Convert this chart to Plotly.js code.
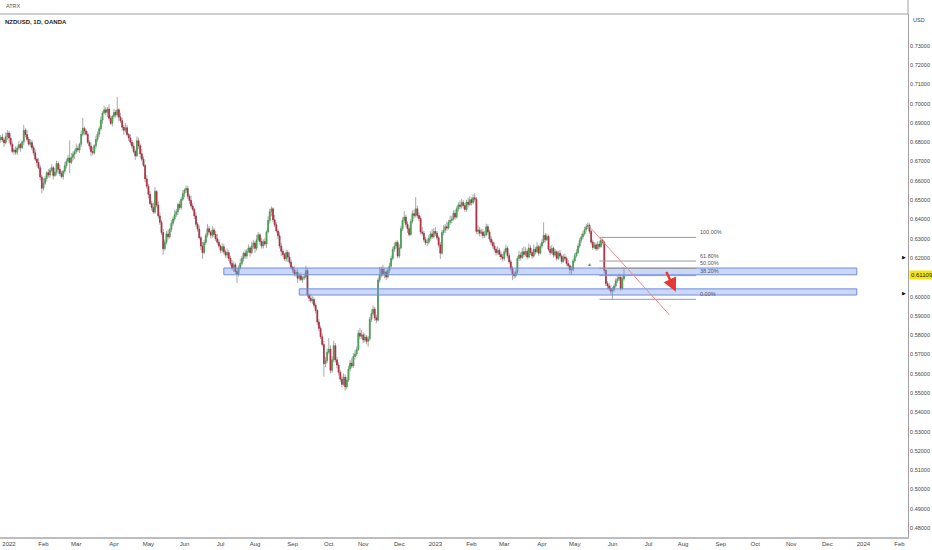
<!DOCTYPE html>
<html>
<head>
<meta charset="utf-8">
<script src="https://cdn.plot.ly/plotly-3.0.1.min.js"></script>
<style>
  html, body { margin: 0; padding: 0; background: #fff; }
  #chart { width: 932px; height: 550px; }
</style>
</head>
<body>
<div id="chart"></div>
<script>
// NZDUSD daily candles, prices in pips (x 0.0001)
const firstBarDate = "2021-12-27";

const openPips = [
  6812,6826,6812,6797,6830,6848,6822,6790,6752,6760,6748,6770,6788,6772,6802,6862,6840,6815,6790,6798,
  6772,6745,6712,6695,6668,6620,6562,6588,6612,6642,6630,6655,6668,6628,6645,6690,6660,6638,6622,6650,
  6678,6702,6718,6695,6722,6738,6752,6768,6760,6790,6842,6872,6858,6842,6800,6780,6752,6745,6782,6815,
  6842,6870,6915,6952,6968,6955,6972,6925,6898,6935,6955,6942,6968,6930,6912,6878,6862,6875,6840,6822,
  6800,6780,6752,6730,6808,6782,6740,6712,6680,6610,6572,6530,6482,6462,6438,6545,6475,6418,6385,6332,
  6248,6282,6325,6310,6348,6380,6402,6425,6440,6478,6462,6505,6535,6552,6560,6520,6498,6470,6452,6418,
  6375,6350,6305,6262,6228,6280,6318,6352,6335,6318,6345,6322,6300,6282,6262,6240,6258,6232,6215,6228,
  6198,6172,6148,6165,6130,6118,6150,6172,6198,6225,6210,6235,6252,6228,6262,6278,6250,6295,6320,6285,
  6262,6285,6272,6335,6395,6440,6455,6398,6372,6340,6315,6262,6235,6218,6195,6228,6205,6178,6152,6138,
  6118,6125,6095,6108,6088,6098,6102,6135,6008,5992,5978,5985,5955,5928,5868,5835,5792,5752,5652,5668,
  5712,5728,5618,5672,5745,5672,5645,5608,5572,5545,5582,5532,5568,5625,5655,5640,5690,5702,5725,5810,
  5795,5802,5775,5790,5768,5782,5882,5912,5935,5890,5878,6085,6110,6142,6118,6128,6102,6135,6158,6198,
  6245,6262,6280,6210,6252,6352,6395,6412,6375,6352,6322,6390,6430,6420,6455,6420,6405,6335,6328,6295,
  6280,6282,6302,6325,6310,6338,6328,6305,6268,6225,6332,6345,6362,6355,6385,6395,6402,6432,6412,6455,
  6475,6468,6488,6472,6452,6490,6478,6502,6488,6512,6505,6338,6345,6328,6335,6315,6322,6362,6335,6298,
  6282,6262,6245,6228,6240,6218,6205,6198,6232,6250,6212,6180,6145,6118,6108,6125,6198,6215,6202,6232,
  6218,6235,6205,6252,6228,6210,6245,6232,6258,6225,6262,6282,6318,6295,6312,6245,6228,6250,6215,6232,
  6198,6225,6210,6182,6205,6198,6172,6160,6138,6140,6185,6212,6228,6262,6292,6310,6325,6348,6362,6370,
  6338,6282,6255,6268,6248,6272,6260,6292,6282,6135,6068,6055,6042,6028,6035,6055,6082,6092,6100,6042,
  6092
];

const highPips = [
  6838,6844,6821,6852,6863,6859,6847,6804,6768,6779,6782,6806,6797,6810,6890,6873,6865,6829,6817,6813,
  6784,6763,6721,6717,6683,6631,6613,6626,6650,6661,6667,6686,6677,6667,6705,6701,6685,6652,6658,6697,
  6714,6736,6810,6744,6753,6763,6793,6782,6798,6861,6926,6881,6867,6857,6811,6799,6777,6790,6834,6856,
  6882,6933,6961,6990,6983,6983,6997,6939,6943,6974,6967,7035,6977,6952,6927,6889,6900,6889,6848,6841,
  6812,6798,6763,6830,6823,6793,6765,6726,6688,6629,6584,6548,6497,6486,6568,6553,6494,6437,6397,6351,
  6296,6340,6347,6356,6397,6415,6449,6455,6486,6497,6517,6553,6561,6576,6574,6531,6523,6484,6460,6437,
  6387,6368,6314,6284,6295,6329,6377,6366,6343,6364,6357,6340,6325,6296,6270,6277,6273,6243,6250,6240,
  6210,6190,6182,6176,6145,6162,6196,6212,6233,6244,6247,6270,6261,6284,6293,6289,6320,6334,6328,6304,
  6297,6303,6344,6417,6455,6468,6462,6423,6386,6348,6334,6280,6247,6227,6244,6241,6230,6192,6160,6157,
  6140,6143,6120,6126,6106,6121,6160,6149,6016,6014,6002,5996,5967,5935,5882,5849,5810,5770,5688,5730,
  5785,5748,5690,5772,5760,5688,5659,5621,5590,5602,5596,5584,5641,5671,5682,5708,5723,5741,5826,5837,
  5828,5815,5809,5801,5796,5895,5934,5955,5946,5905,6098,6154,6155,6165,6147,6139,6150,6176,6212,6258,
  6281,6290,6292,6270,6368,6410,6443,6425,6390,6365,6402,6447,6452,6516,6472,6436,6418,6362,6341,6310,
  6302,6318,6339,6350,6355,6360,6340,6316,6283,6344,6370,6376,6388,6398,6420,6418,6448,6450,6468,6490,
  6498,6505,6500,6485,6502,6512,6520,6515,6530,6537,6516,6370,6362,6352,6350,6341,6378,6375,6346,6315,
  6295,6280,6258,6262,6252,6233,6222,6248,6268,6262,6225,6192,6158,6132,6140,6210,6238,6229,6252,6260,
  6255,6248,6275,6266,6240,6270,6258,6282,6268,6276,6299,6385,6330,6326,6320,6262,6268,6258,6246,6240,
  6237,6242,6220,6218,6222,6208,6190,6168,6158,6198,6226,6246,6275,6305,6326,6340,6362,6378,6385,6380,
  6345,6295,6282,6280,6288,6290,6305,6300,6290,6142,6080,6070,6058,6050,6068,6095,6108,6120,6110,6105,
  6150
];

const lowPips = [
  6798,6802,6776,6789,6813,6798,6778,6743,6736,6735,6734,6760,6751,6764,6785,6826,6803,6781,6774,6759,
  6731,6702,6674,6660,6603,6535,6550,6579,6596,6617,6616,6645,6607,6620,6628,6636,6626,6613,6606,6637,
  6664,6692,6640,6687,6705,6714,6740,6751,6744,6777,6830,6837,6834,6791,6763,6728,6733,6736,6766,6802,
  6828,6860,6894,6944,6938,6931,6913,6889,6882,6922,6928,6930,6909,6900,6862,6838,6850,6831,6806,6787,
  6766,6742,6709,6722,6766,6716,6700,6671,6594,6559,6509,6474,6446,6430,6428,6462,6404,6372,6318,6217,
  6238,6270,6296,6301,6335,6366,6390,6413,6424,6449,6451,6495,6514,6538,6507,6481,6458,6443,6402,6362,
  6336,6297,6241,6196,6219,6268,6306,6326,6302,6305,6308,6289,6270,6253,6224,6227,6219,6202,6199,6184,
  6158,6136,6128,6117,6070,6104,6140,6161,6182,6197,6196,6225,6207,6220,6245,6226,6238,6286,6269,6249,
  6248,6264,6251,6327,6378,6416,6386,6360,6331,6299,6249,6211,6206,6186,6181,6181,6166,6143,6122,6105,
  6104,6071,6083,6079,6072,6085,6093,5996,5976,5969,5961,5942,5913,5852,5819,5780,5741,5585,5635,5655,
  5702,5602,5605,5660,5658,5628,5590,5558,5530,5538,5512,5520,5557,5612,5628,5631,5674,5692,5718,5779,
  5782,5758,5764,5752,5740,5770,5868,5901,5874,5862,5870,6072,6098,6104,6095,6085,6094,6122,6150,6187,
  6232,6248,6198,6200,6245,6340,6381,6360,6330,6311,6315,6378,6404,6410,6406,6390,6322,6315,6282,6266,
  6262,6271,6290,6297,6302,6314,6292,6255,6195,6218,6318,6330,6341,6347,6372,6380,6393,6398,6404,6441,
  6452,6457,6455,6440,6441,6462,6469,6472,6478,6490,6325,6322,6312,6316,6300,6304,6312,6322,6285,6268,
  6250,6232,6212,6218,6205,6190,6182,6186,6220,6198,6170,6132,6085,6092,6098,6118,6185,6188,6195,6205,
  6208,6192,6198,6215,6196,6202,6218,6225,6211,6218,6250,6275,6280,6288,6235,6214,6220,6202,6205,6186,
  6190,6198,6170,6175,6185,6160,6148,6118,6112,6130,6175,6202,6220,6250,6280,6298,6316,6336,6350,6325,
  6270,6242,6245,6236,6240,6248,6252,6270,6120,6055,6040,6030,6012,5985,6025,6045,6070,6080,6030,6035,
  6082
];

const closePips = [
  6826,6812,6797,6830,6848,6822,6790,6752,6760,6748,6770,6788,6772,6802,6862,6840,6815,6790,6798,6772,
  6745,6712,6695,6668,6620,6562,6588,6612,6642,6630,6655,6668,6628,6645,6690,6660,6638,6622,6650,6678,
  6702,6718,6695,6722,6738,6752,6768,6760,6790,6842,6872,6858,6842,6800,6780,6752,6745,6782,6815,6842,
  6870,6915,6952,6968,6955,6972,6925,6898,6935,6955,6942,6968,6930,6912,6878,6862,6875,6840,6822,6800,
  6780,6752,6730,6808,6782,6740,6712,6680,6610,6572,6530,6482,6462,6438,6545,6475,6418,6385,6332,6248,
  6282,6325,6310,6348,6380,6402,6425,6440,6478,6462,6505,6535,6552,6560,6520,6498,6470,6452,6418,6375,
  6350,6305,6262,6228,6280,6318,6352,6335,6318,6345,6322,6300,6282,6262,6240,6258,6232,6215,6228,6198,
  6172,6148,6165,6130,6118,6150,6172,6198,6225,6210,6235,6252,6228,6262,6278,6250,6295,6320,6285,6262,
  6285,6272,6335,6395,6440,6455,6398,6372,6340,6315,6262,6235,6218,6195,6228,6205,6178,6152,6138,6118,
  6125,6095,6108,6088,6098,6102,6135,6008,5992,5978,5985,5955,5928,5868,5835,5792,5752,5652,5668,5712,
  5728,5618,5672,5745,5672,5645,5608,5572,5545,5582,5532,5568,5625,5655,5640,5690,5702,5725,5810,5795,
  5802,5775,5790,5768,5782,5882,5912,5935,5890,5878,6085,6110,6142,6118,6128,6102,6135,6158,6198,6245,
  6262,6280,6210,6252,6352,6395,6412,6375,6352,6322,6390,6430,6420,6455,6420,6405,6335,6328,6295,6280,
  6282,6302,6325,6310,6338,6328,6305,6268,6225,6332,6345,6362,6355,6385,6395,6402,6432,6412,6455,6475,
  6468,6488,6472,6452,6490,6478,6502,6488,6512,6505,6338,6345,6328,6335,6315,6322,6362,6335,6298,6282,
  6262,6245,6228,6240,6218,6205,6198,6232,6250,6212,6180,6145,6118,6108,6125,6198,6215,6202,6232,6218,
  6235,6205,6252,6228,6210,6245,6232,6258,6225,6262,6282,6318,6295,6312,6245,6228,6250,6215,6232,6198,
  6225,6210,6182,6205,6198,6172,6160,6138,6140,6185,6212,6228,6262,6292,6310,6325,6348,6362,6370,6338,
  6282,6255,6268,6248,6272,6260,6292,6282,6135,6068,6055,6042,6028,6035,6055,6082,6092,6100,6042,6092,
  6111
];

const lastPrice = 0.61109;

const xTickVals = ["2022-01-03","2022-02-01","2022-03-01","2022-04-01","2022-05-02","2022-06-01",
  "2022-07-01","2022-08-01","2022-09-01","2022-10-03","2022-11-01","2022-12-01","2023-01-02",
  "2023-02-01","2023-03-01","2023-04-03","2023-05-01","2023-06-01","2023-07-03","2023-08-01",
  "2023-09-01","2023-10-02","2023-11-01","2023-12-01","2024-01-02","2024-02-01"];
const xTickText = ["2022","Feb","Mar","Apr","May","Jun","Jul","Aug","Sep","Oct","Nov","Dec","2023",
  "Feb","Mar","Apr","May","Jun","Jul","Aug","Sep","Oct","Nov","Dec","2024","Feb"];
// 0.61 sits under the last-price tag, so it is left out
const yTickVals = [0.48,0.49,0.50,0.51,0.52,0.53,0.54,0.55,0.56,0.57,0.58,0.59,0.60,
  0.62,0.63,0.64,0.65,0.66,0.67,0.68,0.69,0.70,0.71,0.72,0.73];

// drawn zones and fib tool
const zoneStart = ["2022-07-05", "2022-09-07"];
const zoneEnd = "2023-12-27";
const zoneLow = [0.6113, 0.6008];
const zoneHigh = [0.6148, 0.6040];
const fibHigh = 0.6307;
const fibLow = 0.5986;
const fibRatios = [1, 0.618, 0.5, 0.382, 0];
const fibLabels = ["100.00%", "61.80%", "50.00%", "38.20%", "0.00%"];

function weekdayDates(start, n) {
  const out = [];
  const d = new Date(start + "T00:00:00Z");
  while (out.length < n) {
    const wd = d.getUTCDay();
    if (wd !== 0 && wd !== 6) out.push(d.toISOString().slice(0, 10));
    d.setUTCDate(d.getUTCDate() + 1);
  }
  return out;
}

const dates = weekdayDates(firstBarDate, closePips.length);
const toPrice = (p) => p / 10000;
const open = openPips.map(toPrice);
const high = highPips.map(toPrice);
const low = lowPips.map(toPrice);
const close = closePips.map(toPrice);
const bodyTop = open.map((o, i) => Math.max(o, close[i]));
const bodyBot = open.map((o, i) => Math.min(o, close[i]));

const GREEN = "#3fa34d";
const RED = "#b3263b";
const FONT = "Liberation Sans, Arial, sans-serif";

const wicks = {
  type: "candlestick",
  x: dates, open: open, high: high, low: low, close: close,
  increasing: { line: { color: "#a9a9a9", width: 1 }, fillcolor: "#a9a9a9" },
  decreasing: { line: { color: "#a9a9a9", width: 1 }, fillcolor: "#a9a9a9" },
  hoverinfo: "skip", showlegend: false,
};

const bodies = {
  type: "candlestick",
  x: dates, open: open, high: bodyTop, low: bodyBot, close: close,
  increasing: { line: { color: GREEN, width: 0.6 }, fillcolor: GREEN },
  decreasing: { line: { color: RED, width: 0.6 }, fillcolor: RED },
  hoverinfo: "skip", showlegend: false,
};

const shapes = [];
zoneStart.forEach((s, i) => {
  shapes.push({
    type: "rect", xref: "x", yref: "y",
    x0: s, x1: zoneEnd, y0: zoneLow[i], y1: zoneHigh[i],
    fillcolor: "rgba(120,150,235,0.38)", line: { color: "#6f8ee0", width: 1 },
  });
});
fibRatios.forEach((r) => {
  const lvl = fibLow + (fibHigh - fibLow) * r;
  shapes.push({
    type: "line", xref: "x", yref: "y",
    x0: "2023-05-22", x1: "2023-08-11", y0: lvl, y1: lvl,
    line: { color: "#9a9a9a", width: 1 },
  });
});
// trend line from the May top
shapes.push({
  type: "line", xref: "x", yref: "y",
  x0: "2023-05-11", y0: 0.6371, x1: "2023-07-19 18:00", y1: 0.5905,
  line: { color: "#f08a8a", width: 1 },
});
// header separator and price scale border above the plot
shapes.push({ type: "line", xref: "paper", yref: "paper", x0: 0, x1: 1, y0: 1, y1: 1,
  line: { color: "#a0a0a0", width: 1 } });
shapes.push({ type: "line", xref: "paper", yref: "paper", x0: 1, x1: 1, y0: 1, y1: 1.03,
  line: { color: "#a0a0a0", width: 1 } });

const annotations = [
  { xref: "paper", yref: "paper", x: 0.004, y: 1.016, xanchor: "left", yanchor: "middle",
    text: "ATRX", showarrow: false, font: { family: FONT, size: 5.5, color: "#555" } },
  { xref: "paper", yref: "paper", x: 0.003, y: 0.985, xanchor: "left", yanchor: "middle",
    text: "<b>NZDUSD, 1D, OANDA</b>", showarrow: false, font: { family: FONT, size: 6, color: "#222" } },
  { xref: "paper", yref: "paper", x: 1, y: 0.988, xanchor: "left", yanchor: "middle", xshift: 3,
    text: "USD", showarrow: false, font: { family: FONT, size: 5.5, color: "#444" } },
  { xref: "paper", yref: "y", x: 1, y: lastPrice, xanchor: "left", yanchor: "middle", xshift: 1,
    text: lastPrice.toFixed(5), showarrow: false, bgcolor: "#f3e614", borderpad: 1,
    font: { family: FONT, size: 6, color: "#222" } },
  { xref: "paper", yref: "y", x: 1, y: 0.6205, xanchor: "right", yanchor: "middle",
    text: "▶", showarrow: false, font: { size: 5, color: "#111" } },
  { xref: "paper", yref: "y", x: 1, y: 0.6020, xanchor: "right", yanchor: "middle",
    text: "▶", showarrow: false, font: { size: 5, color: "#111" } },
  { xref: "x", yref: "y", x: "2023-05-12", y: 0.6169, text: "▲", showarrow: false,
    font: { size: 5, color: GREEN } },
  { xref: "x", yref: "y", axref: "x", ayref: "y",
    x: "2023-07-25 16:00", y: 0.6025, ax: "2023-07-17 10:00", ay: 0.6135,
    text: "", showarrow: true, arrowhead: 2, arrowsize: 1.1, arrowwidth: 2.5, arrowcolor: "#e53935" },
];
fibRatios.forEach((r, i) => {
  annotations.push({
    xref: "x", yref: "y", x: "2023-08-14", y: fibLow + (fibHigh - fibLow) * r,
    xanchor: "left", yanchor: "bottom", text: fibLabels[i], showarrow: false,
    font: { family: FONT, size: 5.5, color: "#555" },
  });
});

const layout = {
  width: 932, height: 550,
  margin: { l: 0, r: 24, t: 14, b: 13 },
  paper_bgcolor: "#ffffff", plot_bgcolor: "#ffffff",
  font: { family: FONT, size: 6, color: "#444" },
  showlegend: false,
  xaxis: {
    type: "date",
    range: ["2021-12-24 12:00", "2024-02-08 05:00"],
    rangebreaks: [{ bounds: ["sat", "mon"] }],
    rangeslider: { visible: false },
    tickvals: xTickVals, ticktext: xTickText,
    showgrid: false, zeroline: false, ticks: "",
    showline: true, linecolor: "#bdbdbd", linewidth: 1.5,
    tickfont: { family: FONT, size: 6, color: "#444" },
    fixedrange: true, automargin: false,
  },
  yaxis: {
    side: "right",
    range: [0.47537, 0.74649],
    tickvals: yTickVals, tickformat: ".5f",
    showgrid: false, zeroline: false, ticks: "",
    showline: true, linecolor: "#a0a0a0", linewidth: 1,
    tickfont: { family: FONT, size: 5.5, color: "#444" },
    fixedrange: true, automargin: false,
  },
  shapes: shapes,
  annotations: annotations,
};

Plotly.newPlot("chart", [wicks, bodies], layout, { displayModeBar: false, staticPlot: true });
</script>
</body>
</html>
